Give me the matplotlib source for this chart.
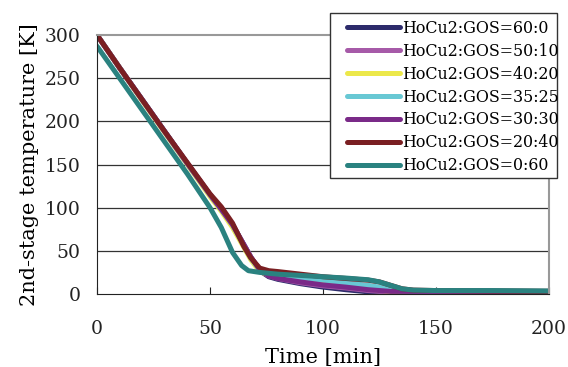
import matplotlib
matplotlib.use("Agg")
import matplotlib.pyplot as plt
from matplotlib.patches import Rectangle

# time axis [min]
t = [0, 10, 20, 30, 40, 50, 55, 60, 65, 68, 72, 76, 80, 90, 100, 110, 120, 125, 130, 135, 140, 150, 175, 200]
t_teal = [0, 10, 20, 30, 40, 50, 55, 60, 64, 67, 72, 76, 80, 90, 100, 110, 120, 125, 130, 135, 140, 150, 175, 200]

labels = ["HoCu2:GOS=60:0", "HoCu2:GOS=50:10", "HoCu2:GOS=40:20", "HoCu2:GOS=35:25",
          "HoCu2:GOS=30:30", "HoCu2:GOS=20:40", "HoCu2:GOS=0:60"]
colors = ["#2d2b6b", "#a65aa8", "#ece84a", "#68c8d4", "#7a2a88", "#7a1f22", "#2a8280"]

T_60_0 = [300, 262, 225, 188, 151, 115, 98, 80, 57, 43, 27, 20, 17, 12, 8, 5, 2.5, 2, 2, 2, 2, 2, 2, 2]
T_50_10 = [300, 262, 225, 188, 151, 115, 98, 80, 57, 43, 28, 21, 18, 13, 9.5, 7, 4, 3, 2.5, 2.5, 2.5, 2.5, 2.5, 2.5]
T_40_20 = [300, 262, 224, 187, 150, 113, 96, 77, 54, 40, 26, 22, 20, 15, 12.5, 9.5, 6, 4.5, 3, 3, 3, 3, 3, 3]
T_35_25 = [300, 262, 225, 188, 151, 115, 98, 80, 56, 42, 28, 24, 22, 19, 16, 13, 10, 8, 5, 3.5, 3, 3, 3, 3]
T_30_30 = [300, 262, 225, 188, 151, 115, 98, 80, 57, 43, 28, 21, 18, 14, 10.5, 8, 5, 4, 3, 3, 3, 3, 3, 3]
T_20_40 = [300, 262, 225, 188, 152, 116, 101, 82, 55, 42, 30, 27, 26, 23, 20, 18, 16, 14, 10, 6, 4.5, 4, 3.5, 3]
T_0_60 = [287, 250, 213, 176, 139, 100, 77, 48, 33, 27, 25, 24, 23, 21.5, 20, 18.5, 16.5, 14, 10, 6, 4.5, 4, 4, 3.5]

series = [T_60_0, T_50_10, T_40_20, T_35_25, T_30_30, T_20_40, T_0_60]

plt.rcParams["font.family"] = "DejaVu Serif"

W, H = 568, 367
fig = plt.figure(figsize=(W / 100, H / 100), dpi=100)
ax = fig.add_axes([97 / W, 1 - 294 / H, 452 / W, 259 / H])

for i in range(len(series)):
    x = t_teal if i == len(series) - 1 else t
    ax.plot(x, series[i], color=colors[i], lw=3.6, label=labels[i], solid_capstyle="round")

ax.set_xlim(0, 200)
ax.set_ylim(0, 300)
ax.set_xticks([0, 50, 100, 150, 200])
ax.set_yticks([0, 50, 100, 150, 200, 250, 300])
for y in [50, 100, 150, 200, 250]:
    ax.axhline(y, color="#333333", lw=0.9, zorder=0)

ax.spines["top"].set_color("#999999")
ax.spines["right"].set_color("#999999")
ax.spines["top"].set_linewidth(1.5)
ax.spines["right"].set_linewidth(1.5)
ax.spines["left"].set_color("#222222")
ax.spines["bottom"].set_color("#222222")
ax.tick_params(direction="in", length=5, labelsize=13.5, colors="#222222")
ax.tick_params(axis="x", pad=19)
ax.tick_params(axis="y", pad=12, length=0)

ax.set_xlabel("Time [min]", fontsize=15, labelpad=7)
ax.set_ylabel("2nd-stage temperature [K]", fontsize=15, labelpad=4)

# legend box drawn by hand so the padding matches
box = Rectangle((330 / W, 1 - 178 / H), 227 / W, 165 / H, transform=fig.transFigure,
                facecolor="white", edgecolor="#333333", lw=1.0, zorder=5, clip_on=False)
ax.add_artist(box)
leg = ax.legend(loc="upper left", bbox_to_anchor=(347 / W, 1 - 20 / H), bbox_transform=fig.transFigure,
                fontsize=11.4, frameon=False, handlelength=3.35, handletextpad=0.1,
                labelspacing=0.37, borderpad=0, borderaxespad=0)
leg.set_zorder(6)
for line in leg.get_lines():
    line.set_linewidth(3.6)

plt.savefig("out.png", dpi=100)
